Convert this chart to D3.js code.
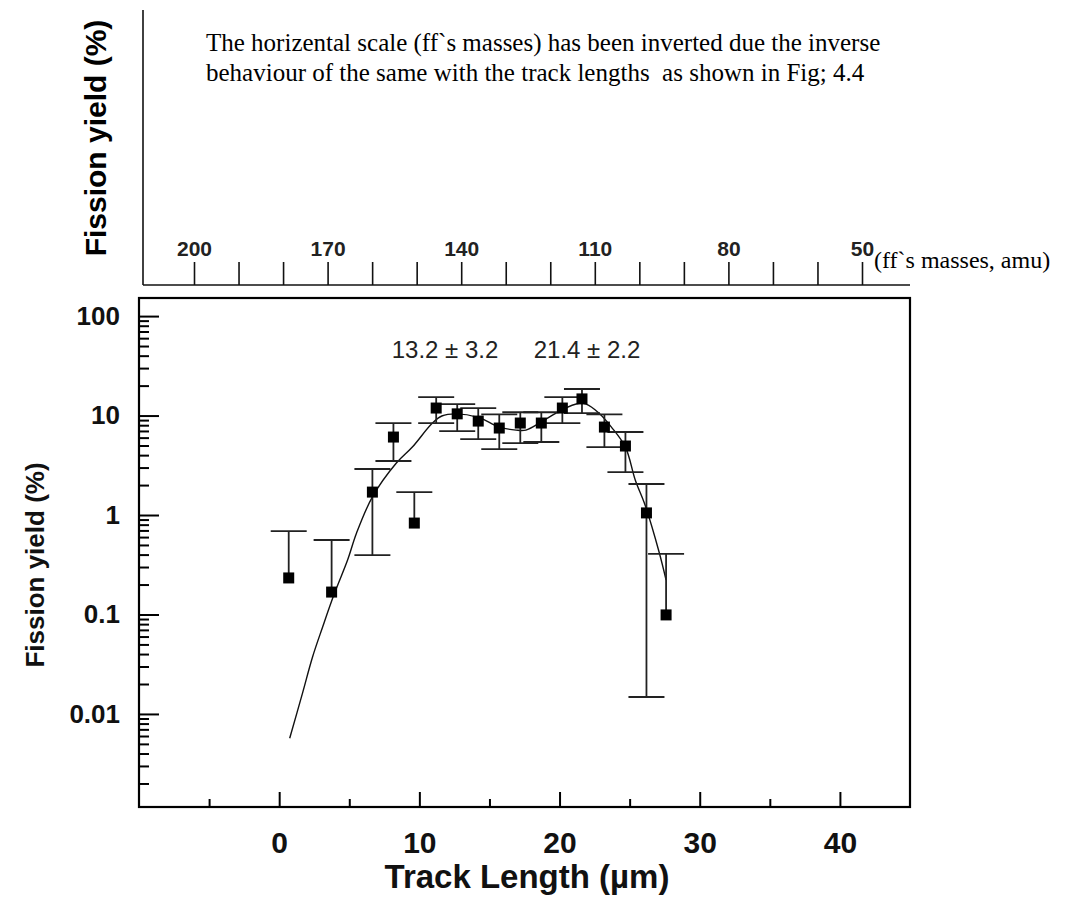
<!DOCTYPE html>
<html>
<head>
<meta charset="utf-8">
<script src="https://cdn.jsdelivr.net/npm/d3@7"></script>
<style>
    body { margin: 0; background: #fff; }
    svg { display: block; }
    .sans { font-family: "Liberation Sans", Arial, sans-serif; }
    .serif { font-family: "Liberation Serif", "Times New Roman", serif; }
</style>
</head>
<body>
<svg id="chart" width="1069" height="897"></svg>
<script>
// Measured points (track length in um, fission yield in %)
var trackLength = [0.68, 3.74, 6.65, 8.15, 9.64, 11.2, 12.7, 14.2, 15.7, 17.2, 18.7, 20.2, 21.6, 23.2, 24.7, 26.2, 27.6];
var yieldValue = [0.233, 0.168, 1.70, 6.08, 0.83, 11.9, 10.4, 8.8, 7.49, 8.41, 8.41, 11.9, 14.7, 7.66, 4.94, 1.05, 0.099];
var yieldUpper = [0.69, 0.561, 2.90, 8.41, 1.70, 15.3, 13.0, 11.9, 10.3, 10.8, 10.8, 15.3, 18.5, 10.3, 6.83, 2.05, 0.406];
var yieldLower = [null, null, 0.396, 3.49, null, 8.41, 6.98, 5.8, 4.6, 5.29, 5.42, 8.41, 10.6, 4.82, 2.70, 0.0148, null];

// Fitted curve
var fitLength = [0.75, 1.67, 2.38, 3.1, 3.95, 4.88, 5.52, 6.65, 8.36, 9.5, 10.93, 11.6, 12.6, 14.2, 15.7, 16.9, 17.6, 18.7, 20.1, 21.4, 21.9, 22.8, 23.7, 24.7, 25.4, 26.1, 27.1, 27.6];
var fitYield = [0.0057, 0.0163, 0.0374, 0.0749, 0.164, 0.353, 0.659, 1.52, 3.33, 4.82, 8.41, 9.9, 10.4, 9.6, 7.66, 7.14, 7.14, 8.61, 11.3, 13.3, 13.0, 10.6, 7.66, 4.82, 2.25, 1.26, 0.425, 0.222];

// Axis ticks
var xMajorTicks = [0, 10, 20, 30, 40];
var xMinorTicks = [-5, 5, 15, 25, 35];
var yMajorTicks = [0.01, 0.1, 1, 10, 100];
var yLabels = ["0.01", "0.1", "1", "10", "100"];
var massTicks = [200, 190, 180, 170, 160, 150, 140, 130, 120, 110, 100, 90, 80, 70, 60, 50];
var massLabels = [200, 170, 140, 110, 80, 50];

var xDomain = [-10, 45];
var yDomain = [0.00116, 152];

var svg = d3.select("svg#chart");
var plot = { left: 139, right: 910, top: 298, bottom: 807 };

var xScale = d3.scaleLinear()
    .domain(xDomain)
    .range([plot.left, plot.right]);
var yScale = d3.scaleLog()
    .domain(yDomain)
    .range([plot.bottom, plot.top]);

// minor ticks on the log axis: 2..9 in every decade
var yMinorTicks = [];
[0.001, 0.01, 0.1, 1, 10].forEach(function(base) {
    for (var k = 2; k <= 9; k++) {
        var v = base * k;
        if (v > yDomain[0] && v < yDomain[1]) yMinorTicks.push(v);
    }
});

// ---- upper panel: mass scale ----
var massScale = d3.scaleLinear()
    .domain([200, 50])
    .range([194, 862]);

var topAxisY = 285;
var topPanel = svg.append("g").attr("id", "masspanel");

topPanel.append("g")
    .attr("class", "sans")
    .attr("transform", "translate(0," + topAxisY + ")")
    .call(d3.axisTop(massScale)
        .tickValues(massTicks)
        .tickSize(23)
        .tickSizeOuter(0)
        .tickPadding(6)
        .tickFormat(function(d) { return massLabels.indexOf(d) >= 0 ? d : ""; }))
    .call(function(g) { g.select(".domain").remove(); })
    .call(function(g) {
        g.selectAll("line").attr("stroke", "#111").attr("stroke-width", 1.6);
        g.selectAll("text").attr("fill", "#222").style("font-size", "21px").style("font-weight", "bold");
    });

topPanel.append("line")
    .attr("x1", 143).attr("x2", 910)
    .attr("y1", topAxisY).attr("y2", topAxisY)
    .attr("stroke", "#111").attr("stroke-width", 1.6);

topPanel.append("line")
    .attr("x1", 143).attr("x2", 143)
    .attr("y1", 10).attr("y2", topAxisY)
    .attr("stroke", "#111").attr("stroke-width", 1.6);

topPanel.append("text")
    .attr("class", "serif")
    .attr("x", 874).attr("y", 268)
    .style("font-size", "24px")
    .text("(ff`s masses, amu)");

topPanel.append("text")
    .attr("class", "sans")
    .attr("transform", "translate(106,138) rotate(-90)")
    .style("text-anchor", "middle")
    .style("font-size", "30px")
    .style("font-weight", "bold")
    .text("Fission yield (%)");

var note = topPanel.append("text")
    .attr("class", "serif")
    .style("font-size", "25px");
note.append("tspan").attr("x", 206).attr("y", 51)
    .text("The horizental scale (ff`s masses) has been inverted due the inverse");
note.append("tspan").attr("x", 206).attr("y", 81)
    .text("behaviour of the same with the track lengths\u00a0 as shown in Fig; 4.4");

// ---- main panel ----
var main = svg.append("g").attr("id", "mainpanel");

// left axis (ticks point inward)
main.append("g")
    .attr("class", "sans")
    .attr("transform", "translate(" + plot.left + ",0)")
    .call(d3.axisLeft(yScale)
        .tickValues(yMinorTicks)
        .tickSize(-10)
        .tickSizeOuter(0)
        .tickFormat(""))
    .call(function(g) { g.select(".domain").remove(); });

main.append("g")
    .attr("class", "sans")
    .attr("transform", "translate(" + plot.left + ",0)")
    .call(d3.axisLeft(yScale)
        .tickValues(yMajorTicks)
        .tickSize(-20)
        .tickSizeOuter(0)
        .tickPadding(19)
        .tickFormat(function(d, i) { return yLabels[i]; }))
    .call(function(g) { g.select(".domain").remove(); })
    .call(function(g) {
        g.selectAll("text").attr("fill", "#111").style("font-size", "26px").style("font-weight", "bold");
    });

// bottom axis
main.append("g")
    .attr("transform", "translate(0," + plot.bottom + ")")
    .call(d3.axisBottom(xScale)
        .tickValues(xMinorTicks)
        .tickSize(-8)
        .tickSizeOuter(0)
        .tickFormat(""))
    .call(function(g) { g.select(".domain").remove(); });

main.append("g")
    .attr("class", "sans")
    .attr("transform", "translate(0," + plot.bottom + ")")
    .call(d3.axisBottom(xScale)
        .tickValues(xMajorTicks)
        .tickSize(-15)
        .tickSizeOuter(0)
        .tickPadding(25))
    .call(function(g) { g.select(".domain").remove(); })
    .call(function(g) {
        g.selectAll("text").attr("fill", "#111").style("font-size", "30px").style("font-weight", "bold");
    });

main.selectAll(".tick line").attr("stroke", "#000").attr("stroke-width", 2);

// frame
main.append("rect")
    .attr("x", plot.left)
    .attr("y", plot.top)
    .attr("width", plot.right - plot.left)
    .attr("height", plot.bottom - plot.top)
    .attr("fill", "none")
    .attr("stroke", "#000")
    .attr("stroke-width", 2.2);

// axis titles
main.append("text")
    .attr("class", "sans")
    .attr("x", 527).attr("y", 888)
    .style("text-anchor", "middle")
    .style("font-size", "33px")
    .style("font-weight", "bold")
    .attr("fill", "#111")
    .text("Track Length (\u00b5m)");

main.append("text")
    .attr("class", "sans")
    .attr("transform", "translate(44,565) rotate(-90)")
    .style("text-anchor", "middle")
    .style("font-size", "26px")
    .style("font-weight", "bold")
    .attr("fill", "#111")
    .text("Fission yield (%)");

// peak annotations
main.append("text")
    .attr("class", "sans")
    .attr("x", 445).attr("y", 358)
    .style("text-anchor", "middle")
    .style("font-size", "24px")
    .attr("fill", "#222")
    .text("13.2 \u00b1 3.2");

main.append("text")
    .attr("class", "sans")
    .attr("x", 587).attr("y", 358)
    .style("text-anchor", "middle")
    .style("font-size", "24px")
    .attr("fill", "#222")
    .text("21.4 \u00b1 2.2");

// fitted curve
var fitData = fitLength.map(function(d, i) { return { x: d, y: fitYield[i] }; });
var fitLine = d3.line()
    .x(function(d) { return xScale(d.x); })
    .y(function(d) { return yScale(d.y); })
    .curve(d3.curveCatmullRom);

main.append("path")
    .datum(fitData)
    .attr("d", fitLine)
    .attr("fill", "none")
    .attr("stroke", "#111")
    .attr("stroke-width", 1.4);

// error bars and points
var points = trackLength.map(function(d, i) {
    return { x: d, y: yieldValue[i], hi: yieldUpper[i], lo: yieldLower[i] };
});
var capHalf = 18;

var bars = main.append("g").attr("id", "errorbars")
    .selectAll("g").data(points)
    .enter().append("g")
    .attr("stroke", "#222")
    .attr("stroke-width", 1.8);

bars.append("line")
    .attr("x1", function(d) { return xScale(d.x); })
    .attr("x2", function(d) { return xScale(d.x); })
    .attr("y1", function(d) { return yScale(d.lo == null ? d.y : d.lo); })
    .attr("y2", function(d) { return yScale(d.hi); });

bars.append("line")
    .attr("x1", function(d) { return xScale(d.x) - capHalf; })
    .attr("x2", function(d) { return xScale(d.x) + capHalf; })
    .attr("y1", function(d) { return yScale(d.hi); })
    .attr("y2", function(d) { return yScale(d.hi); });

bars.filter(function(d) { return d.lo != null; })
    .append("line")
    .attr("x1", function(d) { return xScale(d.x) - capHalf; })
    .attr("x2", function(d) { return xScale(d.x) + capHalf; })
    .attr("y1", function(d) { return yScale(d.lo); })
    .attr("y2", function(d) { return yScale(d.lo); });

main.append("g").attr("id", "points")
    .selectAll("rect").data(points)
    .enter().append("rect")
    .attr("x", function(d) { return xScale(d.x) - 5.5; })
    .attr("y", function(d) { return yScale(d.y) - 5.5; })
    .attr("width", 11)
    .attr("height", 11)
    .attr("fill", "#000");
</script>
</body>
</html>
